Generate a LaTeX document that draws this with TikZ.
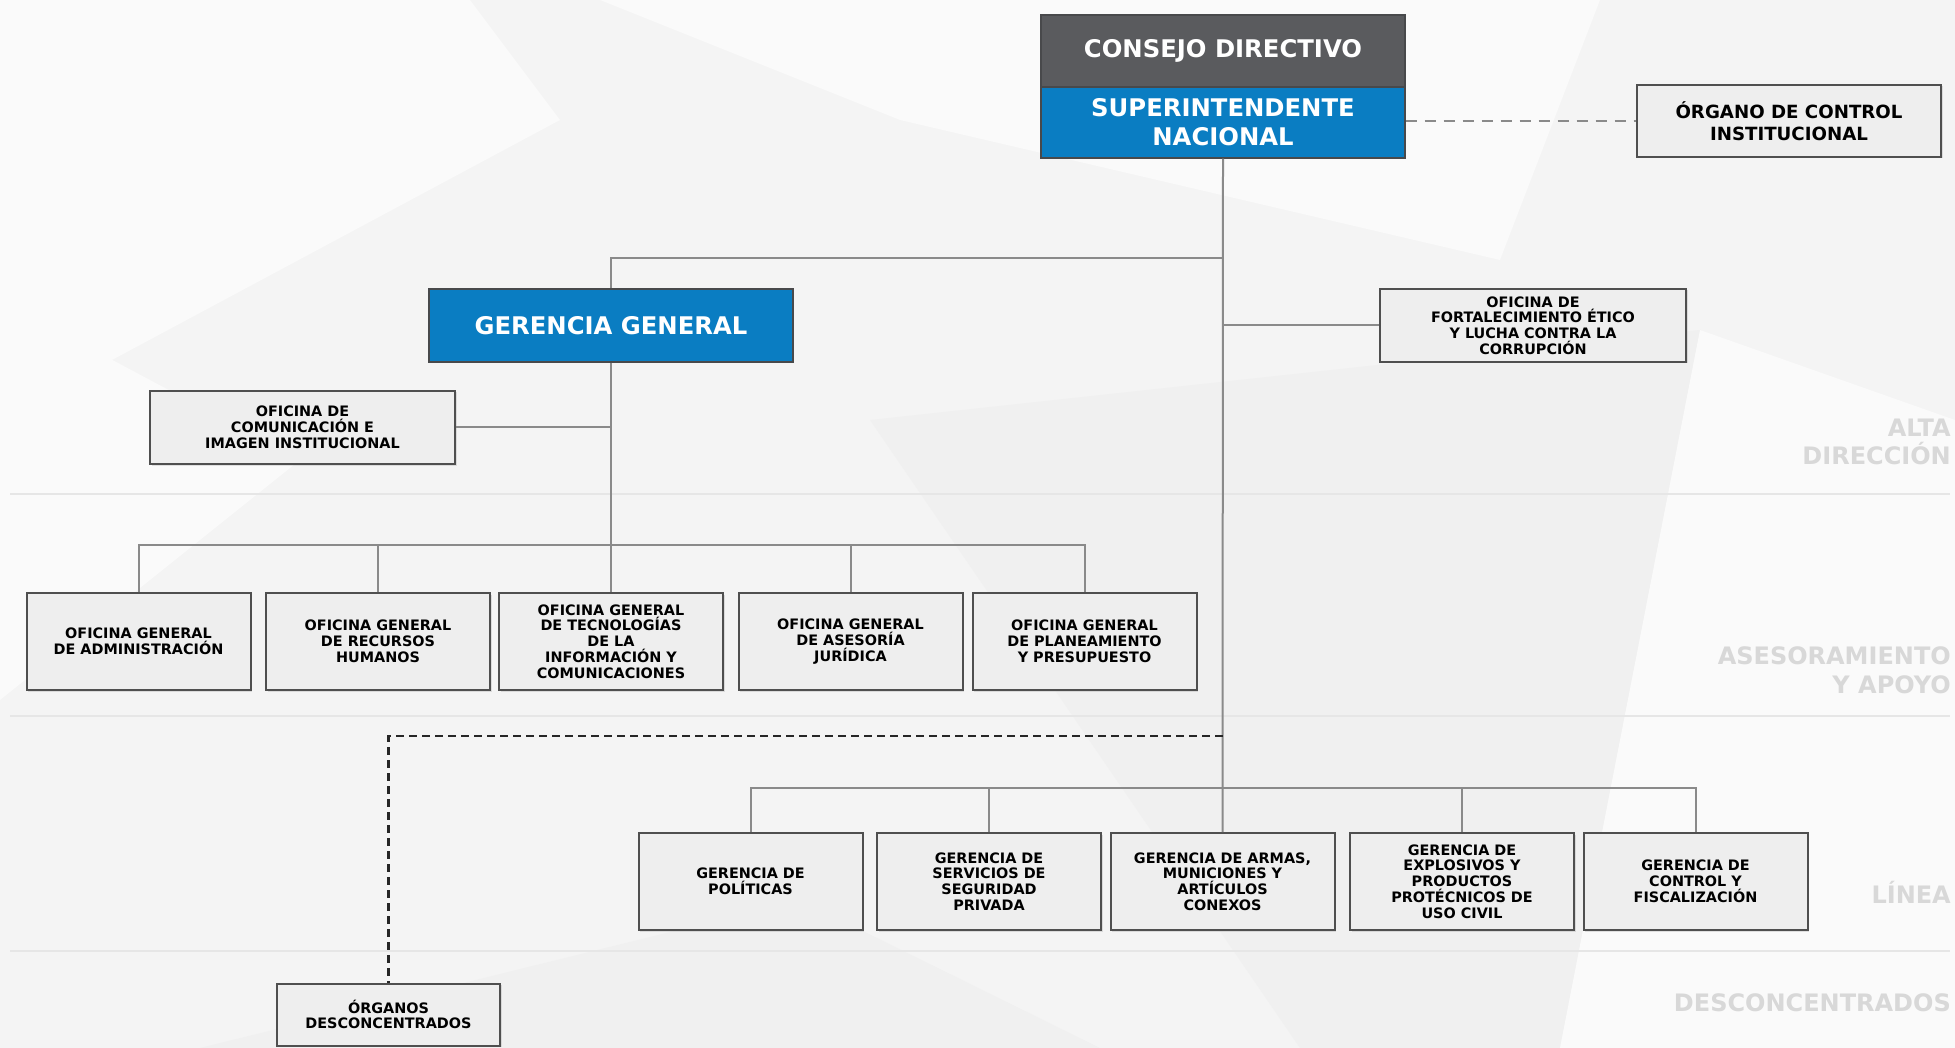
\documentclass[tikz,border=0pt]{standalone}
\usepackage{fontspec}
\setmainfont{DejaVu Sans}
\newfontfamily\boxfont{DejaVu Sans}
\usetikzlibrary{shadows}
\definecolor{bgc}{HTML}{F4F4F4}
\definecolor{bgw}{HTML}{FAFAFA}
\definecolor{bgd}{HTML}{F0F0F0}
\definecolor{boxfill}{HTML}{EEEEEE}
\definecolor{boxline}{HTML}{4F4F4F}
\definecolor{conn}{HTML}{8A8A8A}
\definecolor{hdrgray}{HTML}{5A5B5E}
\definecolor{hdrblue}{HTML}{0A7DC2}
\definecolor{lvl}{HTML}{D8D8D8}
\definecolor{sepc}{HTML}{E6E6E6}
\tikzset{
  obox/.style={draw=boxline, line width=2pt, fill=boxfill, align=center, inner sep=1pt,
    font=\boxfont\bfseries\fontsize{14.4}{15.8}\selectfont,
    drop shadow={opacity=0.22, shadow xshift=1.5pt, shadow yshift=-1.5pt}},
  rowbox/.style={obox, minimum width=224pt, minimum height=97pt},
  hdr/.style={draw=hdrgray!80!black, line width=1.2pt, text=white, align=center, inner sep=0pt,
    font=\bfseries\fontsize{24.3}{29}\selectfont, minimum width=364pt},
  conline/.style={draw=conn, line width=2pt},
  lvltext/.style={text=lvl, align=right, anchor=east, inner sep=0pt,
    font=\bfseries\fontsize{24}{28.7}\selectfont},
  sepline/.style={draw=sepc, line width=2pt}
}
\begin{document}
\begin{tikzpicture}[x=1pt,y=-1pt]
% background
\fill[bgc] (0,0) rectangle (1955,1048);
\useasboundingbox (0,0) rectangle (1955,1048);
\fill[bgw] (0,0) -- (470,0) -- (560,120) -- (0,420) -- cycle;
\fill[bgw] (600,0) -- (1600,0) -- (1500,260) -- (900,120) -- cycle;
\fill[bgd] (870,420) -- (1700,330) -- (1560,1048) -- (1300,1048) -- cycle;
\fill[bgw] (1560,1048) -- (1700,330) -- (1955,420) -- (1955,1048) -- cycle;
\fill[bgw] (0,300) -- (300,460) -- (0,700) -- cycle;
\fill[bgd] (200,1048) -- (800,900) -- (1100,1048) -- cycle;
% level separators
\draw[sepline] (10,494) -- (1950,494);
\draw[sepline] (10,716) -- (1950,716);
\draw[sepline] (10,951) -- (1950,951);
% level labels
\node[lvltext] (lvA) at (1951,442) {ALTA\\DIRECCIÓN};
\node[lvltext] (lvB) at (1951,670) {ASESORAMIENTO\\Y APOYO};
\node[lvltext] (lvC) at (1951,892) {LÍNEA};
\node[lvltext] (lvD) at (1951,1003) {DESCONCENTRADOS};

% top nodes
\node[hdr, fill=hdrgray, minimum height=72pt] (cons) at (1223,51) {CONSEJO DIRECTIVO};
\node[hdr, fill=hdrblue, minimum height=71pt] (sup) at (1223,122.5) {SUPERINTENDENTE\\NACIONAL};
\node[obox, minimum width=304pt, minimum height=72pt,
  font=\boxfont\bfseries\fontsize{18.2}{22}\selectfont] (oci) at (1789,121) {ÓRGANO DE CONTROL\\INSTITUCIONAL};
\node[hdr, fill=hdrblue, minimum height=73pt] (gg) at (611,325.5) {GERENCIA GENERAL};
\node[obox, minimum width=306pt, minimum height=73pt] (fort) at (1533,325.5) {OFICINA DE\\FORTALECIMIENTO ÉTICO\\Y LUCHA CONTRA LA\\CORRUPCIÓN};
\node[obox, minimum width=305pt, minimum height=73pt] (com) at (302.5,427.5) {OFICINA DE\\COMUNICACIÓN E\\IMAGEN INSTITUCIONAL};

% advisory/support row
\node[rowbox] (a1) at (138.5,641.5) {OFICINA GENERAL\\DE ADMINISTRACIÓN};
\node[rowbox] (a2) at (378,641.5) {OFICINA GENERAL\\DE RECURSOS\\HUMANOS};
\node[rowbox] (a3) at (611,641.5) {OFICINA GENERAL\\DE TECNOLOGÍAS\\DE LA\\INFORMACIÓN Y\\COMUNICACIONES};
\node[rowbox] (a4) at (850.5,641.5) {OFICINA GENERAL\\DE ASESORÍA\\JURÍDICA};
\node[rowbox] (a5) at (1084.5,641.5) {OFICINA GENERAL\\DE PLANEAMIENTO\\Y PRESUPUESTO};

% line row
\node[rowbox] (l1) at (750.5,881.5) {GERENCIA DE\\POLÍTICAS};
\node[rowbox] (l2) at (989,881.5) {GERENCIA DE\\SERVICIOS DE\\SEGURIDAD\\PRIVADA};
\node[rowbox] (l3) at (1222.5,881.5) {GERENCIA DE ARMAS,\\MUNICIONES Y\\ARTÍCULOS\\CONEXOS};
\node[rowbox] (l4) at (1462,881.5) {GERENCIA DE\\EXPLOSIVOS Y\\PRODUCTOS\\PROTÉCNICOS DE\\USO CIVIL};
\node[rowbox] (l5) at (1695.5,881.5) {GERENCIA DE\\CONTROL Y\\FISCALIZACIÓN};

% decentralised
\node[obox, minimum width=223pt, minimum height=62pt] (org) at (388.5,1014.5) {ÓRGANOS\\DESCONCENTRADOS};

% junction coordinates
\coordinate (jg) at (1222.5,258);
\coordinate (jf) at (1222.5,325.5);
\coordinate (jd) at (1222.5,736);
\coordinate (jdl) at (388.5,736);
\coordinate (bA) at (611,545);
\coordinate (bL) at (1222.5,788);

% connectors
\draw[conline] (sup.south) -- (l3.north);
\draw[conline] (jg) -- (jg -| gg.north) -- (gg.north);
\draw[conline] (jf) -- (fort.west);
\draw[conline] (gg.south) -- (a3.north);
\draw[conline] (com.east) -- (com.east -| gg.south);
\draw[conline] (a1.north) |- (bA) -| (a5.north);
\draw[conline] (a2.north) -- (a2.north |- bA);
\draw[conline] (a4.north) -- (a4.north |- bA);
\draw[conline] (l1.north) |- (bL) -| (l5.north);
\draw[conline] (l2.north) -- (l2.north |- bL);
\draw[conline] (l4.north) -- (l4.north |- bL);
\draw[draw=conn, line width=2.2pt, dash pattern=on 11pt off 8pt] (oci.west -| sup.east) -- (oci.west);
\draw[draw=black!85, line width=2.6pt, dash pattern=on 8pt off 5pt] (jd) -- (jdl) -- (org.north);
\end{tikzpicture}
\end{document}
